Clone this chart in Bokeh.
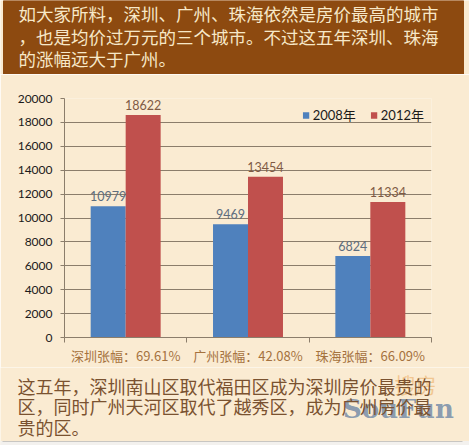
from bokeh.plotting import figure
from bokeh.layouts import column
from bokeh.models import (Range1d, FixedTicker, CustomJSTickFormatter, ColumnDataSource,
                          LabelSet, Legend, LegendItem)
from bokeh.transform import dodge
from bokeh.core.properties import value
from bokeh.embed import file_html
from bokeh.resources import INLINE

# ---- data ----
header_lines = [
    "如大家所料，深圳、广州、珠海依然是房价最高的城市",
    "，也是均价过万元的三个城市。不过这五年深圳、珠海",
    "的涨幅远大于广州。",
]
footer_lines = [
    "这五年，深圳南山区取代福田区成为深圳房价最贵的",
    "区，同时广州天河区取代了越秀区，成为广州房价最",
    "贵的区。",
]
city_labels = ["深圳张幅：69.61%", "广州张幅：42.08%", "珠海张幅：66.09%"]
years = ["2008年", "2012年"]
price_2008 = [10979, 9469, 6824]
price_2012 = [18622, 13454, 11334]
y_ticks = list(range(0, 20001, 2000))

# ---- styling ----
W = 469
CREAM = "#FAEBD2"
BROWN = "#8D4A10"
HEAD_TEXT = "#F7E8C8"
FOOT_TEXT = "#7A5230"
BLUE = "#4F81BD"
RED = "#C0504D"
AXIS = "#8B7D6B"
CJK = "Noto Sans CJK SC"
NUM = "Lato, 'Noto Sans CJK SC'"


def panel(height):
    f = figure(width=W, height=height, x_range=Range1d(0, W), y_range=Range1d(0, height),
               x_axis_type=None, y_axis_type=None, toolbar_location=None,
               output_backend="svg", min_border=0, outline_line_color=None,
               background_fill_color=CREAM, border_fill_color=CREAM, frame_align=False)
    return f


# header band with the intro text
head = panel(74)
head.quad(left=3, right=463, bottom=0, top=74, color=BROWN)
head.text(x=[18] * len(header_lines), y=[61.5, 38.5, 16.5], text=header_lines,
          text_font=value(CJK), text_font_size="17.5px", text_color=HEAD_TEXT,
          text_baseline="middle", text_align="left")

# bar chart
src = ColumnDataSource(dict(
    x=[i + 0.5 for i in range(len(city_labels))],
    y2008=price_2008, y2012=price_2012,
    l2008=[str(v) for v in price_2008], l2012=[str(v) for v in price_2012],
))

p = figure(width=W, height=293, x_range=Range1d(0, len(city_labels)), y_range=Range1d(0, 20000),
           toolbar_location=None, output_backend="svg", frame_align=False,
           min_border_left=64, min_border_right=38, min_border_top=24, min_border_bottom=30,
           background_fill_color=CREAM, border_fill_color=CREAM, outline_line_color=None)

r1 = p.vbar(x=dodge("x", -0.143), width=0.286, top="y2008", source=src,
            fill_color=BLUE, line_color=None)
r2 = p.vbar(x=dodge("x", 0.143), width=0.286, top="y2012", source=src,
            fill_color=RED, line_color=None)

p.add_layout(LabelSet(x=dodge("x", -0.143), y="y2008", text="l2008", source=src,
                      y_offset=5, text_align="center", text_baseline="bottom",
                      text_font=value(NUM), text_font_size="12.5px", text_color="#5D6D7E"))
p.add_layout(LabelSet(x=dodge("x", 0.143), y="y2012", text="l2012", source=src,
                      y_offset=5, text_align="center", text_baseline="bottom",
                      text_font=value(NUM), text_font_size="12.5px", text_color="#7F5A44"))

# y axis
p.yaxis.ticker = FixedTicker(ticks=y_ticks)
p.ygrid.ticker = FixedTicker(ticks=y_ticks)
p.yaxis.axis_line_color = AXIS
p.yaxis.major_tick_line_color = AXIS
p.yaxis.major_tick_out = 4
p.yaxis.major_tick_in = 0
p.yaxis.minor_tick_line_color = None
p.yaxis.major_label_standoff = 8
p.yaxis.major_label_text_font = NUM
p.yaxis.major_label_text_font_size = "12px"
p.yaxis.major_label_text_color = "#1A1A1A"
p.ygrid.grid_line_color = AXIS
p.xgrid.grid_line_color = None

# x axis: labels at category centres, ticks at category boundaries
p.xaxis.ticker = FixedTicker(ticks=src.data["x"], minor_ticks=list(range(len(city_labels) + 1)))
p.xaxis.formatter = CustomJSTickFormatter(args=dict(labels=city_labels),
                                          code="return labels[Math.floor(tick)];")
p.xaxis.axis_line_color = AXIS
p.xaxis.major_tick_line_color = None
p.xaxis.major_tick_out = 0
p.xaxis.major_tick_in = 0
p.xaxis.minor_tick_line_color = AXIS
p.xaxis.minor_tick_out = 5
p.xaxis.minor_tick_in = 0
p.xaxis.major_label_standoff = 3
p.xaxis.major_label_text_font = CJK
p.xaxis.major_label_text_font_size = "13px"
p.xaxis.major_label_text_color = "#A5723E"

legend = Legend(items=[LegendItem(label=years[0], renderers=[r1]),
                       LegendItem(label=years[1], renderers=[r2])],
                orientation="horizontal", location="top_right",
                margin=7, padding=0, spacing=14, glyph_width=8, glyph_height=8,
                label_standoff=3, label_height=16,
                label_text_font=NUM, label_text_font_size="13px", label_text_color="#1A1A1A",
                background_fill_alpha=0, border_line_color=None)
p.add_layout(legend)

# footer text with watermark
foot = panel(78)
foot.quad(left=0, right=W, bottom=0, top=4, color="#F3F1EE")
foot.segment(x0=2, y0=4, x1=462, y1=4, line_color="#C8C6C2", line_width=1)
foot.text(x=[415], y=[62], text=["搜房"], text_font=value(CJK), text_font_size="21px",
          text_color="#E9A24E", text_alpha=0.5, text_align="center", text_baseline="middle")
foot.text(x=[398], y=[37], text=["SouFun"], text_font=value("DejaVu Serif"),
          text_font_size="26px", text_font_style="bold", text_color="#4A6E9A",
          text_alpha=0.65, text_align="center", text_baseline="middle")
foot.text(x=[17] * len(footer_lines), y=[60, 39.5, 18.5], text=footer_lines,
          text_font=value(CJK), text_font_size="18px", text_color=FOOT_TEXT,
          text_baseline="middle", text_align="left")

layout = column(head, p, foot, spacing=0)
open("out.html", "w").write(file_html(layout, INLINE))
